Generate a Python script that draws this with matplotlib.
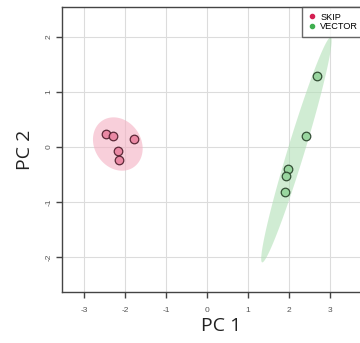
import numpy as np
import matplotlib
matplotlib.use("Agg")
import matplotlib.pyplot as plt
from matplotlib.lines import Line2D

plt.rcParams['font.family'] = ['Liberation Sans', 'DejaVu Sans']

groups = ["SKIP", "VECTOR"]
skip_pc1 = [-2.46, -2.30, -1.79, -2.18, -2.16]
skip_pc2 = [0.23, 0.19, 0.15, -0.08, -0.23]
vector_pc1 = [2.68, 2.42, 1.97, 1.93, 1.90]
vector_pc2 = [1.29, 0.19, -0.40, -0.53, -0.82]

xticks = [-3, -2, -1, 0, 1, 2, 3]
yticks = [-2, -1, 0, 1, 2]

fills = {"SKIP": "#e9829f", "VECTOR": "#93d49a"}
edges = {"SKIP": "#4a1a28", "VECTOR": "#263f28"}
shades = {"SKIP": "#f4b0c2", "VECTOR": "#b2e0b7"}
dots = {"SKIP": "#d41f52", "VECTOR": "#3fae4f"}

LEVEL = 0.95


def conf_ellipse(x, y, level=LEVEL, n=200):
    # normal-theory ellipse, chi-square radius with 2 df
    pts = np.column_stack([x, y])
    mu = pts.mean(axis=0)
    cov = np.cov(pts, rowvar=False)
    r = np.sqrt(-2 * np.log(1 - level))
    L = np.linalg.cholesky(cov)
    t = np.linspace(0, 2 * np.pi, n)
    circ = np.vstack([np.cos(t), np.sin(t)])
    e = mu[:, None] + r * (L @ circ)
    return e[0], e[1]


fig = plt.figure(figsize=(3.6, 3.43), dpi=100)
ax = fig.add_axes([62 / 360, 51 / 343, 318 / 360, 285 / 343])

data = {"SKIP": (skip_pc1, skip_pc2), "VECTOR": (vector_pc1, vector_pc2)}

for g in groups:
    x, y = data[g]
    ex, ey = conf_ellipse(x, y)
    ax.fill(ex, ey, color=shades[g], alpha=0.6, lw=0, zorder=2)
for g in groups:
    x, y = data[g]
    ax.scatter(x, y, s=38, c=fills[g], edgecolors=edges[g], linewidths=0.9,
               alpha=0.9, zorder=3)

ax.set_xlim(-3.54, 4.22)
ax.set_ylim(-2.64, 2.545)
ax.set_xticks(xticks)
ax.set_yticks(yticks)
ax.set_xticklabels([str(v) for v in xticks])
ax.set_yticklabels([str(v) for v in yticks], rotation=90, va='center')
ax.grid(True, color='#dcdcdc', lw=0.8, zorder=0)
ax.set_axisbelow(True)
ax.tick_params(length=4, width=1.0, color='#444444', labelsize=6,
               labelcolor='#555555')
ax.tick_params(axis='x', pad=7)
ax.tick_params(axis='y', pad=3)
for s in ax.spines.values():
    s.set_color('#444444')
    s.set_linewidth(1.0)

ax.set_xlabel("PC 1", fontsize=14, color='#222222', labelpad=2,
              family=['Open Sans', 'DejaVu Sans'])
ax.set_ylabel("PC 2", fontsize=14, color='#222222', labelpad=8,
              family=['Open Sans', 'DejaVu Sans'])

handles = [Line2D([], [], marker='o', ls='', ms=3, color=dots[g]) for g in groups]
fig.legend(handles, groups, loc='upper left', bbox_to_anchor=(302 / 360, 336 / 343),
           frameon=True, fancybox=False, edgecolor='#444444', fontsize=6.6,
           handletextpad=0.4, borderpad=0.6, labelspacing=0.1,
           handlelength=1.0, borderaxespad=0)

fig.savefig("out.png", dpi=100)
